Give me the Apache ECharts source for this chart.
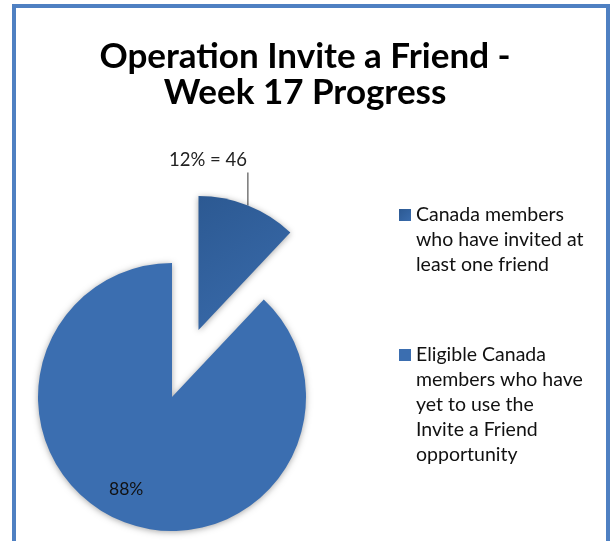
<!DOCTYPE html>
<html>
<head>
<meta charset="utf-8">
<script src="https://cdn.jsdelivr.net/npm/echarts@6/dist/echarts.min.js"></script>
<style>
  html, body { margin: 0; padding: 0; background: #fff; }
  #wrap { position: relative; width: 610px; height: 541px; overflow: hidden; }
  #chart { position: absolute; left: 0; top: 0; width: 610px; height: 541px; }
  #frame { position: absolute; left: 12px; top: 4px; width: 590px; height: 600px;
           border: 4px solid #4f80c2; pointer-events: none; }
</style>
</head>
<body>
<div id="wrap">
  <div id="chart"></div>
  <div id="frame"></div>
</div>
<script>
const titleText = 'Operation Invite a Friend -\nWeek 17 Progress';
const categories = [
  'Canada members\nwho have invited at\nleast one friend',
  'Eligible Canada\nmembers who have\nyet to use the\nInvite a Friend\nopportunity'
];
const values = [46, 337];

const chart = echarts.init(document.getElementById('chart'), null, { renderer: 'canvas' });
const fontFam = 'Lato, "Open Sans", sans-serif';
const blue = '#3b6eb0';

function padTop(name) {
  const n = name.split('\n').length - 1;
  return '\n'.repeat(n) + name;
}

const legendBase = {
  orient: 'vertical',
  left: 399,
  padding: 0,
  itemWidth: 12,
  itemHeight: 12,
  icon: 'rect',
  selectedMode: false,
  formatter: padTop
};
const legendText = { fontFamily: fontFam, fontSize: 19.5, lineHeight: 25, color: '#111' };

chart.setOption({
  animation: false,
  backgroundColor: '#fff',
  title: {
    text: titleText,
    left: 'center',
    top: 34,
    textStyle: { fontFamily: fontFam, fontSize: 35, fontWeight: 'bold', lineHeight: 36, color: '#000' }
  },
  legend: [
    Object.assign({}, legendBase, { top: 146.5, data: [categories[0]],
      textStyle: Object.assign({ padding: [0, 0, 12, 0] }, legendText) }),
    Object.assign({}, legendBase, { top: 241.5, data: [categories[1]],
      textStyle: Object.assign({ padding: [0, 0, 2, 0] }, legendText) })
  ],
  series: [{
    type: 'pie',
    center: [172, 397],
    radius: 134,
    startAngle: 90,
    clockwise: true,
    percentPrecision: 0,
    selectedMode: 'single',
    selectedOffset: 72,
    data: categories.map((c, i) => ({
      name: c,
      value: values[i],
      selected: i === 0,
      itemStyle: i === 0 ? {
        color: {
          type: 'linear', x: 0, y: 0, x2: 1, y2: 1,
          colorStops: [{ offset: 0, color: '#2c5992' }, { offset: 1, color: '#3a6cad' }]
        }
      } : { color: blue },
      label: i === 0
        ? { show: true, position: 'outside', formatter: '{d}% = {c}', fontFamily: fontFam, fontSize: 18.5, color: '#222' }
        : { show: true, position: 'inside', formatter: '{d}%', fontFamily: fontFam, fontSize: 17.5, color: '#111' },
      labelLine: i === 0
        ? { show: true, length: 30, length2: 0, lineStyle: { color: '#333', width: 1 } }
        : { show: false }
    })),
    itemStyle: {
      shadowBlur: 6,
      shadowColor: 'rgba(0,0,0,0.35)',
      shadowOffsetY: 1
    },
    emphasis: { disabled: true },
    labelLayout: function (params) {
      if (params.dataIndex === 0 && params.labelLinePoints) {
        const s = params.labelLinePoints[0];
        const top = [s[0], s[1] - 33];
        return {
          x: s[0] - 1,
          y: top[1] - 1,
          dx: -17,
          dy: -8,
          align: 'right',
          verticalAlign: 'bottom',
          labelLinePoints: [s, top, top]
        };
      }
      if (params.dataIndex === 1) {
        return { dx: -20, dy: 27 };
      }
    }
  }]
});
</script>
</body>
</html>
